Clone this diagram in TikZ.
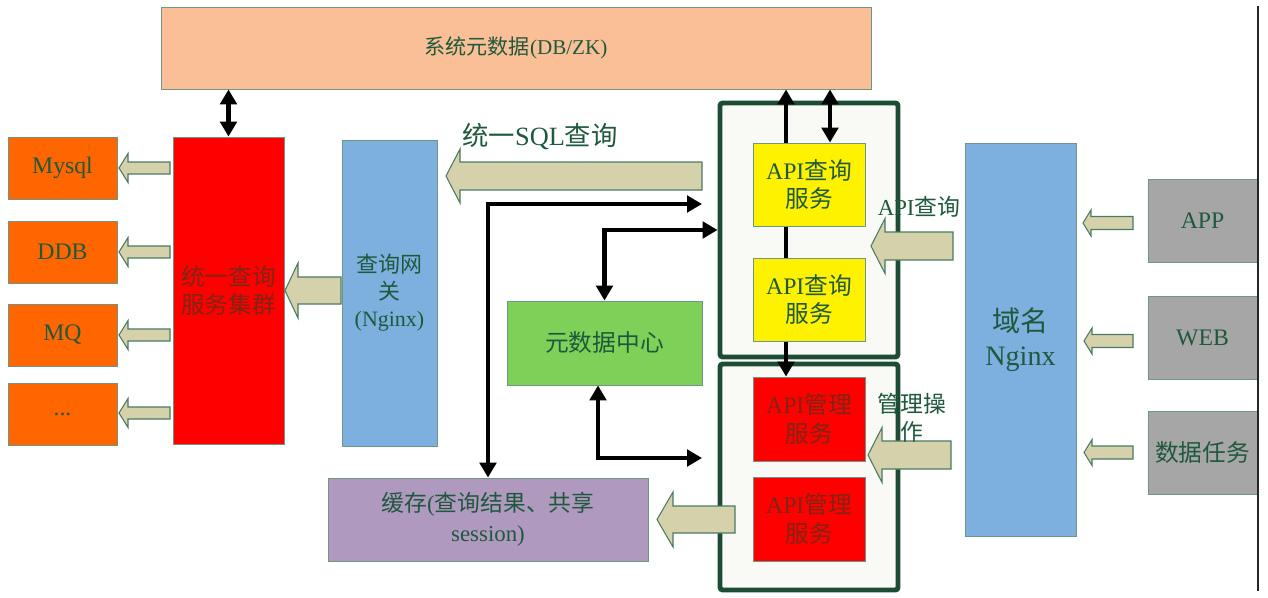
\documentclass[tikz,border=0pt]{standalone}
\usepackage{fontspec}
\setmainfont{Liberation Serif}
\newfontfamily\cjk{Noto Sans CJK SC}
\usetikzlibrary{arrows.meta,calc}
\definecolor{metafill}{rgb}{0.98,0.75,0.59}
\definecolor{orangefill}{rgb}{1.00,0.40,0.00}
\definecolor{bluefill}{rgb}{0.49,0.69,0.87}
\definecolor{greenfill}{rgb}{0.49,0.82,0.35}
\definecolor{purplefill}{rgb}{0.69,0.60,0.75}
\definecolor{grayfill}{rgb}{0.65,0.65,0.65}
\definecolor{beige}{rgb}{0.83,0.82,0.67}
\definecolor{grpgreen}{rgb}{0.11,0.30,0.20}
\definecolor{grpfill}{rgb}{0.976,0.976,0.96}
\definecolor{txtgreen}{rgb}{0.12,0.35,0.24}
\definecolor{redtxt}{rgb}{0.50,0.14,0.08}
\definecolor{boxline}{rgb}{0.43,0.59,0.51}
\newcommand{\zh}[1]{{\cjk #1}}
\newcommand{\fatarrow}[6]{%
  \draw[fatarr] (#1,#4) -- (#2,{#4-#6}) -- (#2,{#4-#5}) -- (#3,{#4-#5})
    -- (#3,{#4+#5}) -- (#2,{#4+#5}) -- (#2,{#4+#6}) -- cycle;}
\begin{document}
\begin{tikzpicture}[x=0.02cm,y=-0.02cm,
   box/.style={draw=boxline,line width=0.5pt,inner sep=0pt,align=center,text=txtgreen,
               font=\fontsize{13.5}{16}\selectfont},
   grp/.style={draw=grpgreen,line width=2.8pt,fill=grpfill,rounded corners=1.5pt,
               minimum width=3.56cm,inner sep=0pt},
   dblarr/.style={line width=2.7pt,{Triangle[length=3mm,width=3.3mm]}-{Triangle[length=3mm,width=3.3mm]}},
   fatarr/.style={fill=beige,draw=txtgreen!80,line width=0.6pt},
   lbl/.style={text=txtgreen,font=\fontsize{13}{16}\selectfont,align=center}]
  \useasboundingbox (0,0) rectangle (1268,598);
  \node[box,fill=metafill,minimum width=14.2cm,minimum height=1.64cm,
        font=\fontsize{12}{15}\selectfont] (meta) at (516,48) {\zh{系统元数据}(DB/ZK)};
  \node[box,fill=orangefill,minimum width=2.18cm,minimum height=1.24cm] (mysql) at (62.5,168) {Mysql};
  \node[box,fill=orangefill,minimum width=2.18cm,minimum height=1.24cm] (ddb) at (62.5,252) {DDB};
  \node[box,fill=orangefill,minimum width=2.18cm,minimum height=1.24cm] (mq) at (62.5,335) {MQ};
  \node[box,fill=orangefill,minimum width=2.18cm,minimum height=1.24cm] (etc) at (62.5,414) {...};
  \node[box,fill=red,text=redtxt,minimum width=2.22cm,minimum height=6.14cm] (cluster)
       at (228.5,290.5) {\zh{统一查询}\\\zh{服务集群}};
  \node[box,fill=bluefill,minimum width=1.9cm,minimum height=6.12cm,
        font=\fontsize{12.5}{15.3}\selectfont] (gw) at (389.5,293) {\zh{查询网}\\\zh{关}\\(Nginx)};
  \node[box,fill=greenfill,minimum width=3.9cm,minimum height=1.68cm] (metac) at (604.5,343) {\zh{元数据中心}};
  \node[box,fill=purplefill,minimum width=6.4cm,minimum height=1.66cm,
        font=\fontsize{13}{17}\selectfont] (cache) at (488,519.5) {\zh{缓存}(\zh{查询结果、共享}\\session)};
  \node[grp,minimum height=5.08cm] (qgrp) at (809,230) {};
  \node[grp,minimum height=4.52cm] (mgrp) at (809,477) {};
  \node[box,fill=red,text=redtxt,minimum width=2.24cm,minimum height=1.68cm] (m1) at (809,419) {API\zh{管理}\\\zh{服务}};
  \node[box,fill=red,text=redtxt,minimum width=2.24cm,minimum height=1.68cm] (m2) at (809,519) {API\zh{管理}\\\zh{服务}};
  \coordinate (vm) at (786,0);
  \draw[dblarr] (meta.south -| vm) -- (m1.north -| vm);
  \node[box,fill=yellow,minimum width=2.24cm,minimum height=1.66cm] (q1) at (809,184.5) {API\zh{查询}\\\zh{服务}};
  \node[box,fill=yellow,minimum width=2.24cm,minimum height=1.66cm] (q2) at (809,299.5) {API\zh{查询}\\\zh{服务}};
  \coordinate (vq) at (830,0);
  \draw[dblarr] (meta.south -| vq) -- (q1.north -| vq);
  \node[box,fill=bluefill,minimum width=2.22cm,minimum height=7.86cm,
        font=\fontsize{16}{19}\selectfont] (nginx) at (1020.5,339.5) {\zh{域名}\\Nginx};
  \node[box,fill=grayfill,minimum width=2.18cm,minimum height=1.66cm] (app) at (1202.5,221) {APP};
  \node[box,fill=grayfill,minimum width=2.18cm,minimum height=1.66cm] (web) at (1202.5,338) {WEB};
  \node[box,fill=grayfill,minimum width=2.18cm,minimum height=1.66cm] (task) at (1202.5,452.5) {\zh{数据任务}};

  \draw[dblarr] (meta.south -| cluster.north) -- (cluster.north);
  \coordinate (c1) at (702,204);
  \draw[dblarr] (cache.north) |- (c1);
  \draw[dblarr] (metac.north) |- (qgrp.west);
  \coordinate (c2) at (702,458);
  \draw[dblarr] ([xshift=-1.3mm]metac.south) |- (c2);

  \fatarrow{446}{460}{702}{176}{14}{27}
  \fatarrow{285}{298}{341}{290.5}{13.5}{27.5}
  \fatarrow{119}{128}{170}{168}{6}{14.5}
  \fatarrow{119}{128}{170}{252}{6}{14.5}
  \fatarrow{119}{128}{170}{335}{6}{14.5}
  \fatarrow{119}{128}{170}{413}{6}{14.5}
  \fatarrow{871}{885}{953}{246}{14}{27.5}
  \fatarrow{868}{882}{951}{455}{14}{27.5}
  \fatarrow{657}{673}{735}{519.5}{13.5}{27.5}
  \fatarrow{1083}{1091}{1133}{223}{6.5}{13}
  \fatarrow{1084}{1092}{1133}{341}{6.5}{13}
  \fatarrow{1084}{1092}{1133}{452.5}{6.5}{13}

  \node[lbl,font=\fontsize{15}{18}\selectfont] (sqllbl) at (540,137) {\zh{统一}SQL\zh{查询}};
  \node[lbl] (apilbl) at (919,207) {API\zh{查询}};
  \node[lbl] (mgmtlbl) at (912,418) {\zh{管理操}\\\zh{作}};
  \draw[line width=1.2pt,black!85] (1258,6) -- (1258,591);
\end{tikzpicture}
\end{document}
